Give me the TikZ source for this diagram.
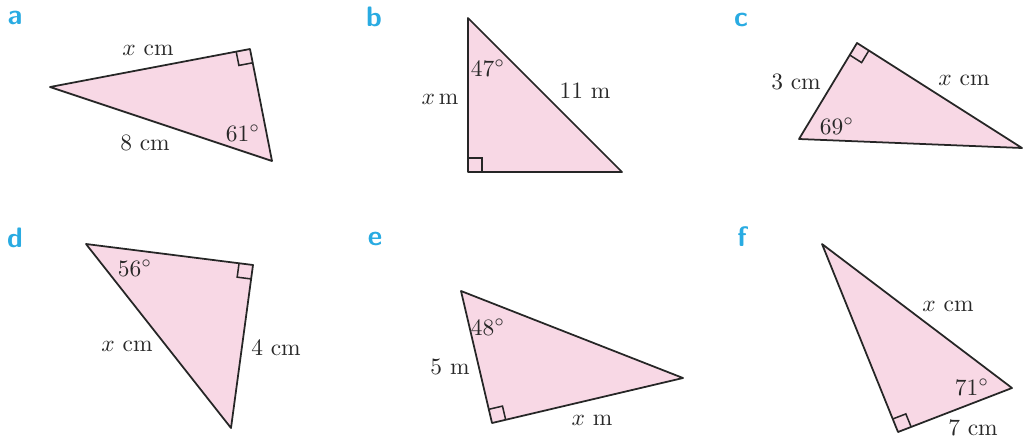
\documentclass[tikz,border=0pt]{standalone}
\usepackage{amsmath,amssymb}
\usepackage{tikz}
\usetikzlibrary{calc}
\definecolor{tripink}{RGB}{248,216,229}
\definecolor{partblue}{RGB}{41,171,226}
\definecolor{lblgray}{RGB}{40,40,40}
\tikzset{tri/.style={fill=tripink,draw=black!85,line width=.75pt,line join=round},
  part/.style={text=partblue,font=\large\sffamily\bfseries},
  lbl/.style={text=lblgray,inner sep=1pt}}
\newcommand{\rtmark}[3]{\coordinate (u) at ($(#1)!6pt!(#2)$);\coordinate (v) at ($(#1)!6pt!(#3)$);%
  \draw[line width=.65pt,black!85] (u)--($(u)+(v)-(#1)$)--(v);}

\begin{document}
\begin{tikzpicture}[x=.015cm,y=-.015cm]
\useasboundingbox (0,0) rectangle (1024,440);
% a
\coordinate (a1) at (50,87);\coordinate (a2) at (250,49);\coordinate (a3) at (272,161);
\draw[tri] (a1)--(a2)--(a3)--cycle;\rtmark{a2}{a1}{a3}
\node[part] (pa) at (15,18){a};
\node[lbl] (xa) at (148,50){$x$ cm};\node[lbl] (sa) at (145,143){8 cm};\node[lbl] (ga) at (243,133){$61^\circ$};
% b
\coordinate (b1) at (468,18);\coordinate (b2) at (468,172);\coordinate (b3) at (622,172);
\draw[tri] (b1)--(b2)--(b3)--cycle;\rtmark{b2}{b1}{b3}
\node[part] (pb) at (374,17){b};
\node[lbl] (xb) at (440,99){$x$\,m};\node[lbl] (sb) at (585,91){11 m};\node[lbl] (gb) at (488,68){$47^\circ$};
% c
\coordinate (c1) at (857,43);\coordinate (c2) at (799,139);\coordinate (c3) at (1022,148);
\draw[tri] (c1)--(c2)--(c3)--cycle;\rtmark{c1}{c2}{c3}
\node[part] (pc) at (741,20){c};
\node[lbl] (sc) at (796,82){3 cm};\node[lbl] (xc) at (964,80){$x$ cm};\node[lbl] (gc) at (837,126){$69^\circ$};
% d
\coordinate (d1) at (86,244);\coordinate (d2) at (253,265);\coordinate (d3) at (231,428);
\draw[tri] (d1)--(d2)--(d3)--cycle;\rtmark{d2}{d1}{d3}
\node[part] (pd) at (15,238){d};
\node[lbl] (gd) at (135,268){$56^\circ$};\node[lbl] (xd) at (127,346){$x$ cm};\node[lbl] (sd) at (276,348){4 cm};
% e
\coordinate (e1) at (461,291);\coordinate (e2) at (683,378);\coordinate (e3) at (492,423);
\draw[tri] (e1)--(e2)--(e3)--cycle;\rtmark{e3}{e1}{e2}
\node[part] (pe) at (375,239){e};
\node[lbl] (ge) at (488,327){$48^\circ$};\node[lbl] (se) at (450,367){5 m};\node[lbl] (xe) at (592,420){$x$ m};
% f
\coordinate (f1) at (822,244);\coordinate (f2) at (1012,388);\coordinate (f3) at (898,432);
\draw[tri] (f1)--(f2)--(f3)--cycle;\rtmark{f3}{f1}{f2}
\node[part] (pf) at (742,237){f};
\node[lbl] (xf) at (948,306){$x$ cm};\node[lbl] (gf) at (972,387){$71^\circ$};\node[lbl] (sf) at (973,428){7 cm};
\end{tikzpicture}
\end{document}
